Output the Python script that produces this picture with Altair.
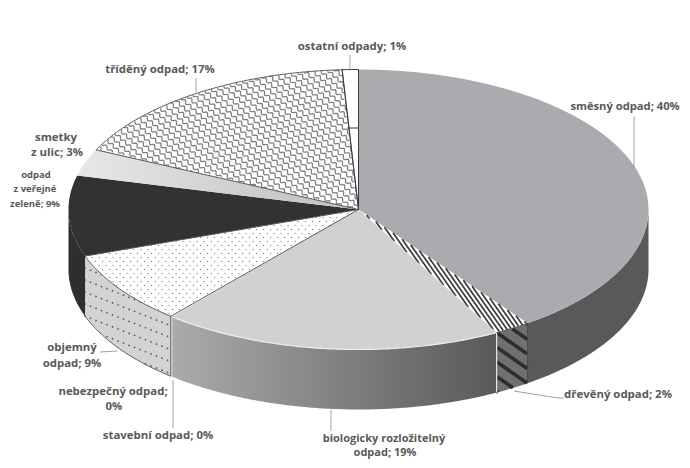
import math
import altair as alt

# ---- data ----
names = ["směsný odpad", "dřevěný odpad", "biologicky rozložitelný odpad", "nebezpečný odpad",
         "stavební odpad", "objemný odpad", "odpad z veřejné zeleně", "smetky z ulic",
         "tříděný odpad", "ostatní odpady"]
shares = [40.1, 2.0, 19.0, 0.05, 0.05, 8.4, 9.3, 3.1, 17.1, 0.9]

label_lines = ["ostatní odpady; 1%", "tříděný odpad; 17%", "směsný odpad; 40%", "smetky", "z ulic; 3%",
               "odpad", "z veřejné", "zeleně; 9%", "objemný", "odpad;  9%", "nebezpečný odpad;", "0%",
               "stavební odpad; 0%", "biologicky rozložitelný", "odpad; 19%", "dřevěný odpad; 2%"]
label_x = [352, 160, 625, 56, 57, 36, 35, 35, 72, 72, 113, 114, 158, 384, 385, 618]
label_y = [47, 70, 107, 138, 153, 175, 189, 204, 348, 364, 392, 407, 436, 439, 453, 395]
label_size = [11.4, 11.4, 11.2, 11.4, 11.4, 9.5, 9.5, 9.5, 11.4, 11.4, 11.4, 11.4, 11.4, 11.0, 11.0, 11.4]

leader_paths = [[(350, 55), (350, 69)], [(196, 78), (196, 92)], [(634, 116), (634, 168)],
                [(514, 391), (558, 398), (564, 398)], [(173, 380), (173, 428)],
                [(331, 410), (331, 431)], [(100, 352), (117, 351)]]

CX, CY, A, B, DEPTH = 358.5, 209.5, 290.0, 140.0, 60.0

cum = [0.0]
for s in shares:
    cum.append(cum[-1] + s)
total = cum[-1]
ang = [c / total * 360 for c in cum]


def pt(t, dy=0.0):
    r = math.radians(t)
    return (CX + A * math.sin(r), CY - B * math.cos(r) + dy)


def arc(t0, t1, dy=0.0):
    n = max(2, int(abs(t1 - t0) * 2) + 1)
    return [pt(t0 + (t1 - t0) * i / (n - 1), dy) for i in range(n)]


def top(i):
    return [(CX, CY)] + arc(ang[i], ang[i + 1])


def closed(pts):
    return list(pts) + [pts[0]]


def side(i):
    t0, t1 = max(ang[i], 90), min(ang[i + 1], 270)
    return arc(t0, t1) + arc(t1, t0, DEPTH)


def inside(p, poly):
    x, y = p
    c = False
    n = len(poly)
    for i in range(n):
        x1, y1 = poly[i]
        x2, y2 = poly[(i + 1) % n]
        if (y1 > y) != (y2 > y) and x < x1 + (y - y1) * (x2 - x1) / (y2 - y1):
            c = not c
    return c


def ring(pts):
    return [[x, y] for x, y in pts] + [[pts[0][0], pts[0][1]]]


def shape(geom, **mk):
    data = alt.Data(values=[{"type": "Feature", "properties": {}, "geometry": geom}])
    return alt.Chart(data).mark_geoshape(**mk).project(type="identity", scale=1, translate=[-8, -8])


def poly(pts, fill, stroke=None, sw=0.0):
    mk = {"fill": fill, "strokeWidth": sw, "stroke": stroke if stroke else "transparent"}
    return shape({"type": "Polygon", "coordinates": [ring(pts)]}, **mk)


def lines(paths, stroke, sw, **kw):
    return shape({"type": "MultiLineString", "coordinates": [[list(p) for p in path] for path in paths]},
                 filled=False, stroke=stroke, strokeWidth=sw, **kw)


def clip(paths, polygon):
    out = []
    for path in paths:
        cur = []
        for p in path:
            if inside(p, polygon):
                cur.append(p)
            else:
                if len(cur) > 1:
                    out.append(cur)
                cur = []
        if len(cur) > 1:
            out.append(cur)
    return out


def bbox(polygon):
    xs = [p[0] for p in polygon]
    ys = [p[1] for p in polygon]
    return min(xs), max(xs), min(ys), max(ys)


def stripes(polygon, angle, spacing, amp=0.0, period=8.0, alternate=False):
    x0, x1, y0, y1 = bbox(polygon)
    mx, my = (x0 + x1) / 2, (y0 + y1) / 2
    L = math.hypot(x1 - x0, y1 - y0) / 2 + 5
    r = math.radians(angle)
    ux, uy = math.cos(r), math.sin(r)
    vx, vy = -uy, ux
    paths = []
    k = -int(L / spacing) - 1
    while k * spacing < L:
        phase = math.pi if (alternate and k % 2) else 0.0
        path = []
        s = -L
        while s <= L:
            off = k * spacing + amp * math.sin(2 * math.pi * s / period + phase)
            path.append((mx + ux * s + vx * off, my + uy * s + vy * off))
            s += 0.8
        paths.append(path)
        k += 1
    return clip(paths, polygon)


def dots(polygon, dx, dy, size, shear=0.0):
    x0, x1, y0, y1 = bbox(polygon)
    polys = []
    j = 0
    y = y0
    y_end = y1 + abs(shear) * (x1 - x0)
    while y <= y_end:
        x = x0 + (dx / 2 if j % 2 else 0)
        while x <= x1:
            yy = y + shear * (x - x0)
            if inside((x, yy), polygon):
                h = size / 2
                polys.append([ring([(x - h, yy), (x, yy - h), (x + h, yy), (x, yy + h)])])
            x += dx
        y += dy
        j += 1
    return polys


def grad(c0, c1):
    return alt.LinearGradient(gradient="linear", x1=0, x2=1, y1=0, y2=0,
                              stops=[alt.GradientStop(offset=0, color=c0), alt.GradientStop(offset=1, color=c1)])


MIX, WOOD, BIO, HAZ, BUILD, BULK, GREEN, SWEEP, SORT, OTHER = range(10)
layers = []

# side walls
layers.append(poly(side(MIX), "#58595b"))
layers.append(poly(side(WOOD), "#6f7072"))
layers.append(lines(stripes(side(WOOD), 35, 12), "#2d2d2f", 3.6))
layers.append(poly(side(BIO), grad("#a9abad", "#58595b")))
layers.append(poly(side(BULK), "#d1d3d4"))
layers.append(shape({"type": "MultiPolygon", "coordinates": dots(side(BULK), 11, 6, 2.2, -0.7)}, fill="#58595b"))
layers.append(poly(side(GREEN), "#2f2d2e"))

# top faces
layers.append(poly(top(MIX), "#a9abae"))
layers.append(poly(top(WOOD), "#ffffff"))
layers.append(lines(stripes(top(WOOD), 55, 3.8), "#3a3a3c", 1.7))
layers.append(poly(top(BIO), "#cfd1d3"))
layers.append(poly(top(BULK), "#ffffff"))
layers.append(shape({"type": "MultiPolygon", "coordinates": dots(top(BULK), 7, 4, 1.5)}, fill="#6d6e71"))
layers.append(poly(top(GREEN), "#333132"))
layers.append(poly(top(SWEEP), grad("#e6e7e8", "#bcbec0")))
layers.append(poly(top(SORT), "#ffffff"))
layers.append(lines(stripes(top(SORT), 42, 5.4, amp=1.4, period=7.0, alternate=True), "#808285", 1.3))
layers.append(poly(top(OTHER), "#ffffff"))

# slice edges
edge = "#58595b"
layers.append(lines([closed(top(SORT))], edge, 1.0))
layers.append(lines([closed(top(BULK))], edge, 1.0))
layers.append(lines([closed(top(OTHER))], "#3a3a3c", 1.0))
layers.append(lines([[(CX - 11, 128), (CX, 128)]], "#3a3a3c", 1.0))
layers.append(lines([arc(ang[BIO], ang[BIO + 1])], "#eeeeef", 1.2))
layers.append(lines([[pt(ang[WOOD + 1]), pt(ang[WOOD + 1], DEPTH)]], "#e6e7e8", 1.2))
layers.append(lines([arc(ang[WOOD], ang[WOOD + 1]), [pt(ang[WOOD]), pt(ang[WOOD], DEPTH)]], "#3a3a3c", 0.8))
layers.append(lines([[pt(ang[BULK]), pt(ang[BULK], DEPTH)]], "#3a3a3c", 0.9))
layers.append(lines([arc(ang[BULK], ang[BULK + 1], DEPTH)], "#3a3a3c", 0.8))

# leaders
layers.append(lines(leader_paths, "#939598", 0.9))

# labels
label_rows = [{"t": t, "x": x, "y": y, "s": s} for t, x, y, s in zip(label_lines, label_x, label_y, label_size)]
layers.append(
    alt.Chart(alt.Data(values=label_rows))
    .mark_text(font="Open Sans", fontWeight="bold", color="#58595b", align="center", baseline="middle")
    .encode(longitude="x:Q", latitude="y:Q", text="t:N", size=alt.Size("s:Q", scale=None, legend=None))
    .project(type="identity", scale=1, translate=[-8, -8])
)

chart = (
    alt.layer(*layers)
    .properties(width=674, height=452, padding=0, autosize=alt.AutoSizeParams(type="none"), background="white")
    .configure_view(stroke=None)
)
chart.save("out.html", embed_options={"renderer": "svg", "actions": False})
